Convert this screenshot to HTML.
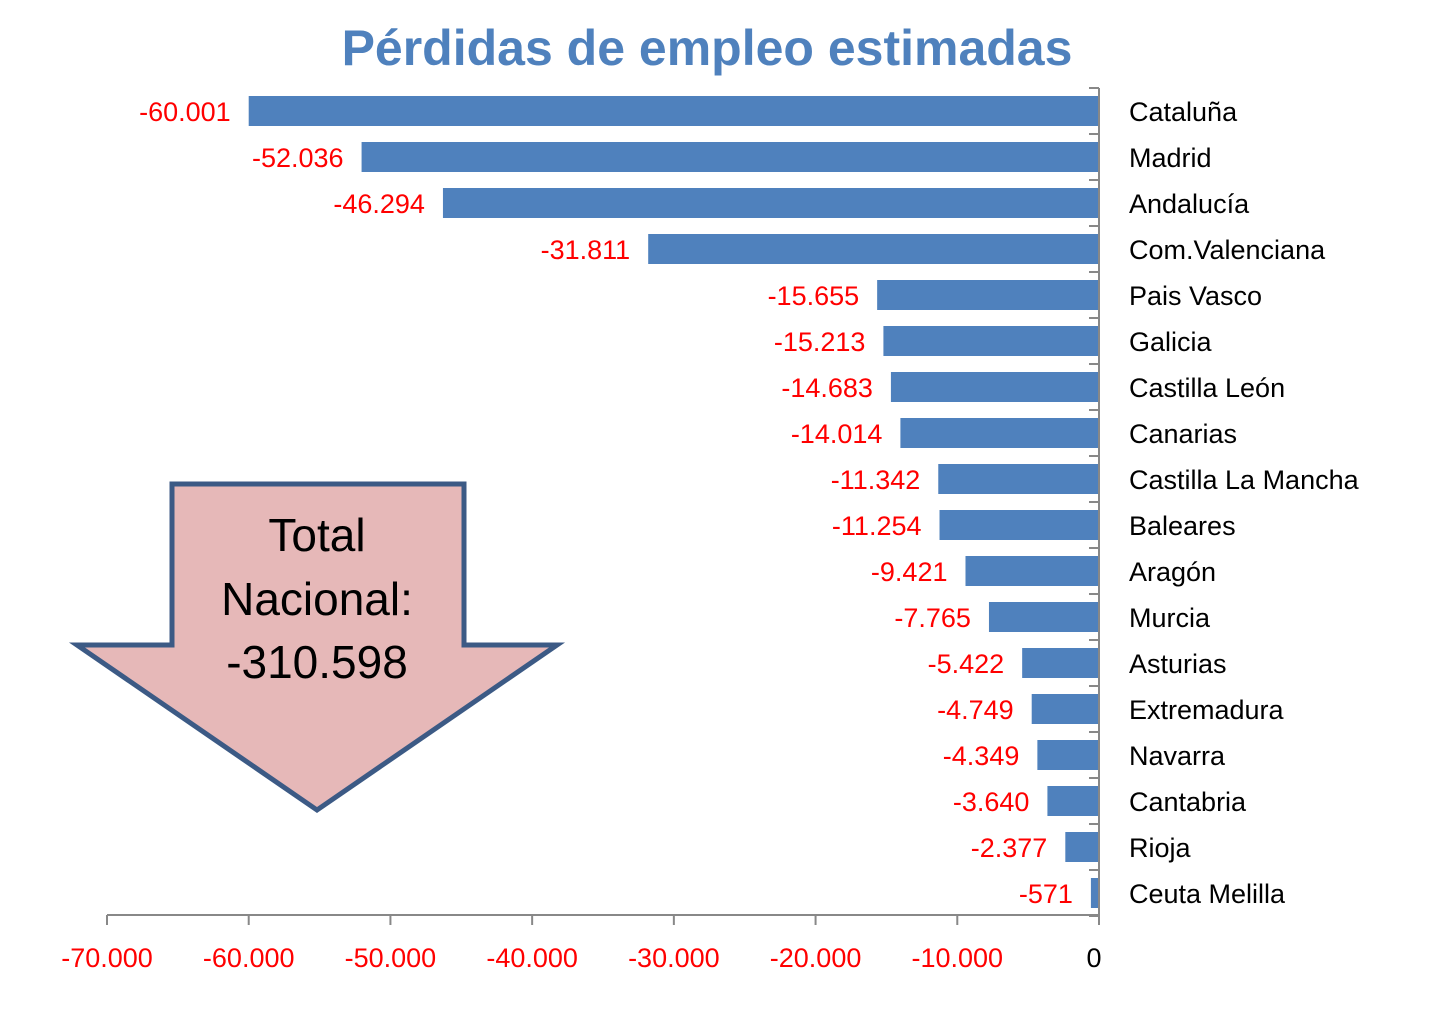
<!DOCTYPE html>
<html><head><meta charset="utf-8"><style>
body{margin:0;background:#fff;}
svg{display:block;font-family:"Liberation Sans",sans-serif;}
</style></head><body>
<svg id="chart" width="1445" height="1018" viewBox="0 0 1445 1018">
<text x="707" y="65" text-anchor="middle" font-size="50" font-weight="bold" fill="#4f81bd">Pérdidas de empleo estimadas</text>
<g id="bars"></g>
<g id="axes"></g>
<g>
<polygon points="172,484 464,484 464,645 557,645 317,810 77,645 172,645" fill="#e6b8b8" stroke="#3c5a85" stroke-width="5" stroke-linejoin="miter"/>
<text x="317" y="551" text-anchor="middle" font-size="46" fill="#000">Total</text>
<text x="317" y="615" text-anchor="middle" font-size="46" fill="#000">Nacional:</text>
<text x="317" y="678" text-anchor="middle" font-size="46" fill="#000">-310.598</text>
</g>
</svg>
<script>
const categories=["Cataluña","Madrid","Andalucía","Com.Valenciana","Pais Vasco","Galicia","Castilla León","Canarias","Castilla La Mancha","Baleares","Aragón","Murcia","Asturias","Extremadura","Navarra","Cantabria","Rioja","Ceuta Melilla"];
const values=[-60001,-52036,-46294,-31811,-15655,-15213,-14683,-14014,-11342,-11254,-9421,-7765,-5422,-4749,-4349,-3640,-2377,-571];
const valueLabels=["-60.001","-52.036","-46.294","-31.811","-15.655","-15.213","-14.683","-14.014","-11.342","-11.254","-9.421","-7.765","-5.422","-4.749","-4.349","-3.640","-2.377","-571"];
const ticks=[-70000,-60000,-50000,-40000,-30000,-20000,-10000,0];
const tickLabels=["-70.000","-60.000","-50.000","-40.000","-30.000","-20.000","-10.000","0"];
const NS="http://www.w3.org/2000/svg";
const X0=107,X1=1099,minV=-70000,maxV=0;
const xs=v=>X0+(v-minV)/(maxV-minV)*(X1-X0);
const plotTop=88,band=46;
const ys=i=>plotTop+band*i+band/2;
function mk(tag,attrs,parent){const e=document.createElementNS(NS,tag);for(const k in attrs)e.setAttribute(k,attrs[k]);parent.appendChild(e);return e;}
const gb=document.getElementById('bars'),ga=document.getElementById('axes');
categories.forEach((c,i)=>{
  const cy=ys(i),xv=xs(values[i]);
  const r=mk('rect',{x:xv,y:cy-15,width:xs(0)-xv,height:30,fill:'#4f81bd'},gb);
  
  
  const t=mk('text',{x:xv-18,y:cy+10,'text-anchor':'end','font-size':27,fill:'#ff0000'},gb);
  t.textContent=valueLabels[i];
  
  
  const l=mk('text',{x:1129,y:cy+10,'font-size':27,fill:'#000'},gb);
  l.textContent=c;
  
  
});
const ax=mk('line',{x1:X0,y1:915,x2:X1,y2:915,stroke:'#888','stroke-width':2},ga);


const ay=mk('line',{x1:X1,y1:plotTop,x2:X1,y2:925,stroke:'#888','stroke-width':2},ga);


for(let i=0;i<=categories.length;i++){mk('line',{x1:X1-10,y1:plotTop+band*i,x2:X1,y2:plotTop+band*i,stroke:'#888','stroke-width':2},ga);}
ticks.forEach((v,i)=>{
  mk('line',{x1:xs(v),y1:915,x2:xs(v),y2:925,stroke:'#888','stroke-width':2},ga);
  const t=mk('text',{x:xs(v)-(v===0?5:0),y:967,'text-anchor':'middle','font-size':27,fill:v===0?'#000':'#ff0000'},ga);
  t.textContent=tickLabels[i];
  
  
});
</script>
</body></html>
